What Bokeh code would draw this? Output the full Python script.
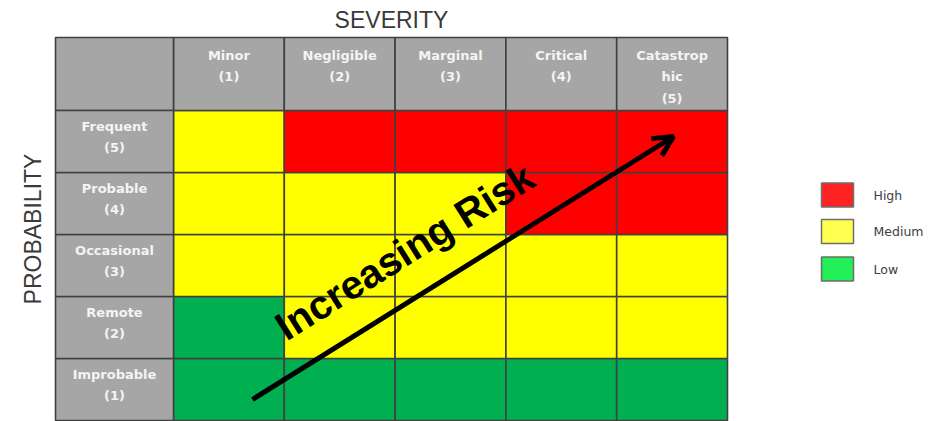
from bokeh.plotting import figure
from bokeh.models import ColumnDataSource, Range1d, Arrow, OpenHead, Label
from bokeh.core.properties import value
from bokeh.embed import file_html
from bokeh.resources import INLINE
import math

# ---------------- data ----------------
severity = ["Minor", "Negligible", "Marginal", "Critical", "Catastrophic"]
severity_labels = ["Minor\n(1)", "Negligible\n(2)", "Marginal\n(3)", "Critical\n(4)", "Catastrop\nhic\n(5)"]
probability = ["Improbable", "Remote", "Occasional", "Probable", "Frequent"]
probability_labels = ["Improbable\n(1)", "Remote\n(2)", "Occasional\n(3)", "Probable\n(4)", "Frequent\n(5)"]

risk_improbable = ["Low", "Low", "Low", "Low", "Low"]
risk_remote = ["Low", "Medium", "Medium", "Medium", "Medium"]
risk_occasional = ["Medium", "Medium", "Medium", "Medium", "Medium"]
risk_probable = ["Medium", "Medium", "Medium", "High", "High"]
risk_frequent = ["Medium", "High", "High", "High", "High"]
risk_rows = [risk_improbable, risk_remote, risk_occasional, risk_probable, risk_frequent]

risk_levels = ["High", "Medium", "Low"]
cell_colors = {"High": "#FF0000", "Medium": "#FFFF00", "Low": "#00B050"}
legend_colors = {"High": "#FF2424", "Medium": "#FFFF50", "Low": "#22EE55"}

# ---------------- layout ----------------
W, H = 930, 421
ux, uy = 110.8, 62.0           # pixels per unit
x_start = 0.5 - 173 / ux
y_start = 0.5 - 1 / uy
hdr_h = 73 / uy
lab_w = 118 / ux

def px_x(px):
    return x_start + px / ux

def px_y(py):
    return y_start + (H - py) / uy

p = figure(width=W, height=H, output_backend="svg", toolbar_location=None,
           x_range=Range1d(x_start, x_start + W / ux),
           y_range=Range1d(y_start, y_start + H / uy),
           min_border=0, x_axis_location=None, y_axis_location=None)
p.grid.visible = False
p.outline_line_color = None
p.background_fill_color = "white"
p.border_fill_color = "white"

grid_line = "#404040"
gray = "#A6A6A6"

# risk cells
xs, ys, cols = [], [], []
for j, row in enumerate(risk_rows, start=1):
    for i, lvl in enumerate(row, start=1):
        xs.append(i); ys.append(j); cols.append(cell_colors[lvl])
cells = ColumnDataSource(dict(
    left=[x - 0.5 for x in xs], right=[x + 0.5 for x in xs],
    bottom=[y - 0.5 for y in ys], top=[y + 0.5 for y in ys], color=cols))
p.quad(left="left", right="right", bottom="bottom", top="top", source=cells,
       fill_color="color", line_color=grid_line, line_width=1.6)

# header row
n = len(severity)
hdr = ColumnDataSource(dict(
    left=[i - 0.5 for i in range(1, n + 1)] + [0.5 - lab_w],
    right=[i + 0.5 for i in range(1, n + 1)] + [0.5],
    bottom=[5.5] * (n + 1), top=[5.5 + hdr_h] * (n + 1)))
p.quad(left="left", right="right", bottom="bottom", top="top", source=hdr,
       fill_color=gray, line_color=grid_line, line_width=1.6)

# label column
m = len(probability)
lab = ColumnDataSource(dict(
    left=[0.5 - lab_w] * m, right=[0.5] * m,
    bottom=[j - 0.5 for j in range(1, m + 1)], top=[j + 0.5 for j in range(1, m + 1)]))
p.quad(left="left", right="right", bottom="bottom", top="top", source=lab,
       fill_color=gray, line_color=grid_line, line_width=1.6)

# header texts
p.text(x=list(range(1, n + 1)), y=[5.5 + hdr_h - 10 / uy] * n, text=severity_labels,
       text_align="center", text_baseline="top", text_color="#F4F4F4",
       text_font=value("DejaVu Sans"), text_font_style="bold",
       text_font_size="13px", text_line_height=1.45)

p.text(x=[0.5 - lab_w / 2] * m, y=[j + 0.5 - 8 / uy for j in range(1, m + 1)],
       text=probability_labels, text_align="center", text_baseline="top",
       text_color="#F4F4F4", text_font=value("DejaVu Sans"), text_font_style="bold",
       text_font_size="13px", text_line_height=1.45)

# axis titles
p.add_layout(Label(x=(0.5 - lab_w + 5.5) / 2, y=px_y(19), text="SEVERITY",
                   text_align="center", text_baseline="middle", text_color="#3A3A3A",
                   text_font="Liberation Sans", text_font_size="23px"))
p.add_layout(Label(x=px_x(32), y=(0.5 + 5.5 + hdr_h) / 2, text="PROBABILITY",
                   angle=math.pi / 2, text_align="center", text_baseline="middle",
                   text_color="#3A3A3A", text_font="Liberation Sans", text_font_size="23px"))

# arrow + text
arrow_start = (px_x(252), px_y(399))
arrow_end = (px_x(673), px_y(136))
p.add_layout(Arrow(x_start=arrow_start[0], y_start=arrow_start[1],
                   x_end=arrow_end[0], y_end=arrow_end[1],
                   line_color="black", line_width=5,
                   end=OpenHead(size=20, line_color="black", line_width=5)))
p.add_layout(Label(x=px_x(404), y=px_y(251), text="Increasing Risk", angle=math.radians(32),
                   text_align="center", text_baseline="middle", text_color="black",
                   text_font="Liberation Sans", text_font_style="bold", text_font_size="40px"))

# legend (drawn as swatches + labels)
leg_y = [px_y(194.5), px_y(231), px_y(268.5)]
p.rect(x=[px_x(837)] * 3, y=leg_y, width=32, height=24,
       width_units="screen", height_units="screen",
       fill_color=[legend_colors[l] for l in risk_levels],
       line_color="#6E6E6E", line_width=1.5)
p.text(x=[px_x(873)] * 3, y=leg_y, text=risk_levels, text_align="left",
       text_baseline="middle", text_color="#404040", text_font=value("DejaVu Sans"),
       text_font_size="12.5px")

open("out.html", "w").write(file_html(p, INLINE))
